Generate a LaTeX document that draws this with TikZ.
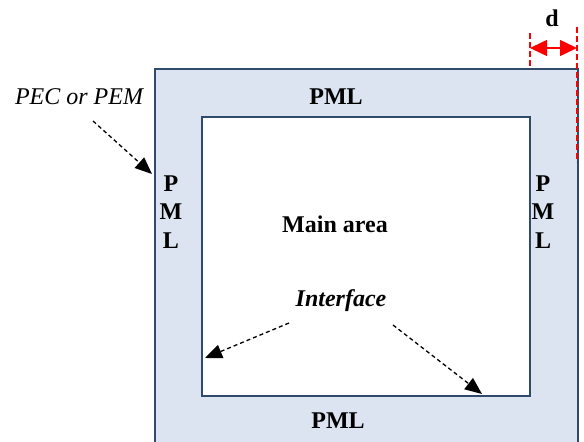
\documentclass[tikz,border=0pt]{standalone}
\usepackage{fontspec}
\setmainfont{Liberation Serif}
\usetikzlibrary{arrows.meta}
\usetikzlibrary{positioning}
\definecolor{pmlfill}{HTML}{DBE4F0}
\definecolor{pmlline}{HTML}{2F4A6B}
\tikzset{
  region/.style={draw=pmlline,line width=2.6pt},
  txt/.style={inner sep=0pt,font=\fontsize{24}{28.5}\selectfont\bfseries},
  pointer/.style={-{Triangle[length=17pt,width=14pt]},dash pattern=on 4pt off 3pt,line width=1.3pt},
  dimline/.style={red,dash pattern=on 6pt off 3pt,line width=1.5pt},
  dimarrow/.style={red,{Triangle[length=17pt,width=16pt]}-{Triangle[length=17pt,width=16pt]},line width=1.5pt}
}
\begin{document}
\begin{tikzpicture}[x=1pt,y=-1pt]
\useasboundingbox (0,0) rectangle (584,442);
% regions
\fill[pmlfill] (155,69) rectangle (578,460);
\draw[region] (155,460) -- (155,69) -- (578,69) -- (578,460);
\node[region,fill=white,minimum width=328pt,minimum height=279pt,inner sep=0pt] (main) at (366,256.5) {};
% texts
\node[txt] (pmltop) at (336,97) {PML};
\node[txt] (pmlbot) at (338,421) {PML};
\node[txt,align=center] (pmlleft) at (171,212) {P\\M\\L};
\node[txt,align=center] (pmlright) at (543,212) {P\\M\\L};
\node[txt] (mainlbl) at (335,224) {Main area};
\node[txt,font=\fontsize{24}{28.5}\selectfont\bfseries\itshape] (iface) at (341,301) {Interface};
\node[txt,font=\fontsize{24}{28.5}\selectfont\itshape] (pec) at (79,97) {PEC or PEM};
\node[txt] (d) at (552,18) {d};
% pointers
\coordinate (pecfrom) at (93,121);
\coordinate (pecto) at (152,174);
\coordinate (ifleft) at (289,323);
\coordinate (iftoleft) at (205,358);
\coordinate (ifright) at (393,325);
\coordinate (iftoright) at (482,394);
\draw[pointer] (pecfrom) -- (pecto);
\draw[pointer] (ifleft) -- (iftoleft);
\draw[pointer] (ifright) -- (iftoright);
% width d
\coordinate (da) at (530,33);
\coordinate (db) at (530,69);
\coordinate (dc) at (577,27);
\coordinate (dd) at (577,162);
\draw[dimline] (da) -- (db);
\draw[dimline] (dc) -- (dd);
\coordinate (dl) at (530,48);
\coordinate (dr) at (577,48);
\draw[dimarrow] (dl) -- (dr);
\end{tikzpicture}
\end{document}
